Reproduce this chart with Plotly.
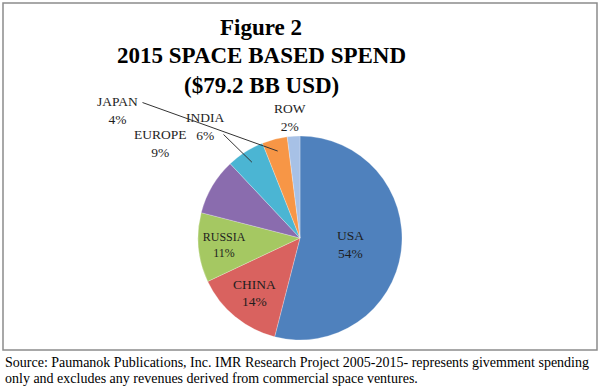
import math
import plotly.graph_objects as go

categories = ["USA", "CHINA", "RUSSIA", "EUROPE", "INDIA", "JAPAN", "ROW"]
shares = [54, 14, 11, 9, 6, 4, 2]
colors = ["#4F81BD", "#D9625F", "#A5C862", "#8A6CAE", "#4BB5D3", "#F79646", "#A7C1E6"]
inside_label = [True, True, True, False, False, False, False]

title_lines = ["Figure 2", "2015 SPACE BASED SPEND", "($79.2 BB USD)"]
source_lines = [
    "Source: Paumanok Publications, Inc. IMR Research Project 2005-2015- represents givemment spending",
    "only and excludes any revenues derived from commercial space ventures.",
]

W, H = 600, 387
CX, CY, R = 300, 238, 102  # pie placement in pixels (top-left origin)


def px(x):
    return x / W


def py(y):
    return 1 - y / H


fig = go.Figure()
fig.add_trace(go.Pie(
    labels=categories,
    values=shares,
    sort=False,
    direction="clockwise",
    rotation=0,
    marker=dict(colors=colors, line=dict(color="rgba(255,255,255,0.5)", width=0.5)),
    texttemplate=["%{label}<br>%{percent:.0%}" if f else "" for f in inside_label],
    textposition=["inside" if f else "none" for f in inside_label],
    insidetextorientation="horizontal",
    textfont=dict(family="Liberation Serif", size=13.5, color="#1E1E1E"),
    domain=dict(x=[px(CX - R), px(CX + R)], y=[py(CY + R), py(CY - R)]),
    showlegend=False,
    hoverinfo="label+percent",
))

annotations = []
for i, line in enumerate(title_lines):
    annotations.append(dict(
        text="<b>%s</b>" % line, x=px(261), y=py(27 + i * 29), xref="paper", yref="paper",
        showarrow=False, xanchor="center", yanchor="middle",
        font=dict(family="Liberation Serif", size=23, color="#000000"),
    ))
for i, line in enumerate(source_lines):
    annotations.append(dict(
        text=line, x=px(3), y=py(362 + i * 16), xref="paper", yref="paper",
        showarrow=False, xanchor="left", yanchor="middle",
        font=dict(family="Liberation Serif", size=14, color="#000000"),
    ))

# outside labels for the small slices (label box centres, pixels)
outside_pos = {"EUROPE": (160, 143), "INDIA": (205, 126), "JAPAN": (117, 110), "ROW": (290, 118)}
# leader-line start points (pixels) for labels that have a leader line
leader_start = {"JAPAN": (141, 102), "INDIA": (222, 133)}

total = sum(shares)
cum = 0
for cat, v in zip(categories, shares):
    mid = math.radians((cum + v / 2) / total * 360)
    cum += v
    if cat in outside_pos:
        lx, ly = outside_pos[cat]
        annotations.append(dict(
            text="%s<br>%d%%" % (cat, round(v / total * 100)), x=px(lx), y=py(ly),
            xref="paper", yref="paper", showarrow=False, xanchor="center", yanchor="middle",
            font=dict(family="Liberation Serif", size=13.5, color="#1E1E1E"),
        ))
    if cat in leader_start:
        tx = CX + 0.88 * R * math.sin(mid)
        ty = CY - 0.88 * R * math.cos(mid)
        sx, sy = leader_start[cat]
        annotations.append(dict(
            text="", x=px(tx), y=py(ty), xref="paper", yref="paper",
            ax=sx - tx, ay=sy - ty, axref="pixel", ayref="pixel",
            showarrow=True, arrowhead=0, arrowwidth=1, arrowcolor="#333333", standoff=0,
        ))

fig.update_layout(
    width=W, height=H,
    margin=dict(l=0, r=0, t=0, b=0),
    paper_bgcolor="white",
    plot_bgcolor="white",
    annotations=annotations,
    shapes=[dict(type="rect", xref="paper", yref="paper",
                 x0=px(3), x1=px(597), y0=py(350), y1=py(3),
                 line=dict(color="#8C8C8C", width=1.5), fillcolor="rgba(0,0,0,0)", layer="below")],
)

fig.write_html("out.html", config={"displayModeBar": False},
               post_script="document.body.style.margin='0';")
